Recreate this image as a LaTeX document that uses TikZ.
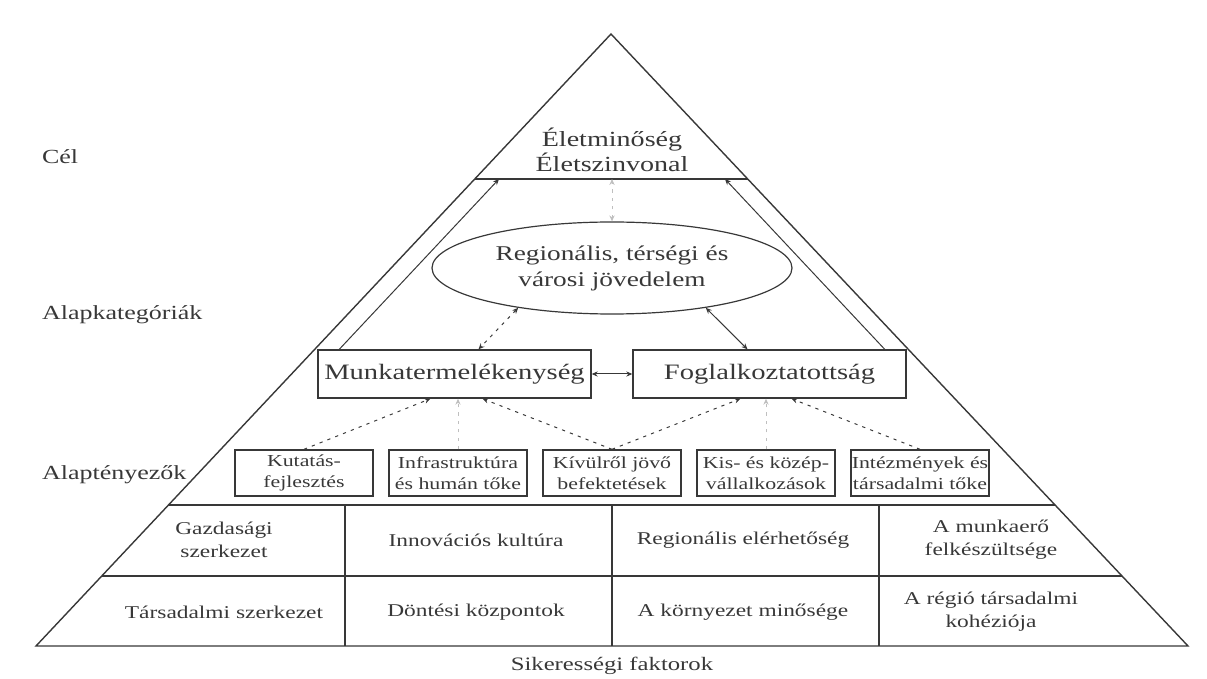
\documentclass[tikz,border=0pt]{standalone}
\usepackage{fontspec}
\setmainfont{Liberation Serif}[FakeStretch=1.3]
\usetikzlibrary{arrows.meta,shapes.geometric,calc}
\colorlet{ink}{black!78}
\tikzset{
  edge/.style={draw=ink,line width=0.7pt},
  fbox/.style={draw=ink,line width=0.7pt,minimum width=69pt,minimum height=23pt,inner sep=0pt,align=center,text=ink,font=\fontsize{8.4}{10.5}\selectfont},
  cbox/.style={draw=ink,line width=0.7pt,minimum width=136.5pt,minimum height=24pt,inner sep=0pt,text=ink,font=\fontsize{11}{13}\selectfont},
  ell/.style={draw=ink,line width=0.6pt,ellipse,minimum width=180pt,minimum height=46pt,inner sep=0pt,align=center,text=ink,font=\fontsize{10.5}{13}\selectfont},
  cell/.style={align=center,text=ink,font=\fontsize{9}{11.5}\selectfont},
  lbl/.style={anchor=west,text=ink,font=\fontsize{10}{12}\selectfont},
  arr/.style={-{Stealth[length=3pt,width=2.6pt]},draw=ink,line width=0.5pt},
  darr/.style={{Stealth[length=3pt,width=2.6pt]}-{Stealth[length=3pt,width=2.6pt]},draw=ink,line width=0.5pt},
  dots/.style={dash pattern=on 1.6pt off 2.6pt},
  faint/.style={draw=black!25},
}
\begin{document}
\begin{tikzpicture}[x=0.5pt,y=-0.5pt]
 \useasboundingbox (0,0) rectangle (1207,679);
 % pyramid and its bands
 \coordinate (apex) at (611,34); \coordinate (bl) at (36,646); \coordinate (br) at (1188,646);
 \draw[edge] (apex) -- (bl) -- (br) -- cycle;
 \draw[edge] ($(apex)!0.2369!(bl)$) -- ($(apex)!0.2369!(br)$);
 \draw[edge] ($(apex)!0.7696!(bl)$) -- ($(apex)!0.7696!(br)$);
 \draw[edge] ($(apex)!0.8856!(bl)$) -- ($(apex)!0.8856!(br)$);
 \foreach \x in {345,612,879} \draw[edge] (\x,505) -- (\x,646);
 \coordinate (bandL) at (499,179); \coordinate (bandM) at (612,179); \coordinate (bandR) at (725,179);

 % levels
 \node[lbl] (lcel) at (35,157) {Cél};
 \node[lbl] (lkat) at (35,315) {Alapkategóriák};
 \node[lbl] (ltny) at (35,475) {Alaptényezők};

 \node[cell,font=\fontsize{10.8}{10.5}\selectfont] (cel) at (612,150) {Életminőség\\Életszinvonal};
 \node[ell] (regio) at (612,268) {Regionális, térségi és\\városi jövedelem};
 \node[cbox] (munk) at (454.5,374) {Munkatermelékenység};
 \node[cbox] (fogl) at (769.5,374) {Foglalkoztatottság};

 \node[fbox] (kf) at (304,473) {Kutatás-\\fejlesztés};
 \node[fbox] (infra) at (458,473) {Infrastruktúra\\és humán tőke};
 \node[fbox] (kulf) at (612,473) {Kívülről jövő\\befektetések};
 \node[fbox] (kkv) at (766,473) {Kis- és közép-\\vállalkozások};
 \node[fbox] (intez) at (920,473) {Intézmények és\\társadalmi tőke};

 % success factors
 \node[cell] (gsz) at (224,540) {Gazdasági\\szerkezet};
 \node[cell] (ink) at (476,540) {Innovációs kultúra};
 \node[cell] (rel) at (743,540) {Regionális elérhetőség};
 \node[cell] (mef) at (991,540) {A munkaerő\\felkészültsége};
 \node[cell] (tsz) at (224,612) {Társadalmi szerkezet};
 \node[cell] (dk) at (476,612) {Döntési központok};
 \node[cell] (km) at (743,612) {A környezet minősége};
 \node[cell] (rtk) at (991,612) {A régió társadalmi\\kohéziója};
 \node[cell,anchor=base,font=\fontsize{9.5}{11}\selectfont] (siker) at (612,671) {Sikerességi faktorok};

 % connectors
 \draw[arr] ($(munk.north west)+(22,0)$) -- (bandL);
 \draw[arr] ($(fogl.north east)+(-22,0)$) -- (bandR);
 \draw[darr,dots,faint] (regio.north) -- (bandM);
 \draw[darr,dots] (regio.203) -- ($(munk.north)+(24,0)$);
 \draw[darr] (regio.337) -- ($(fogl.north)+(-22,0)$);
 \draw[darr] (munk.east) -- (fogl.west);
 \draw[arr,dots] (kf.north) -- ($(munk.south)+(-24,0)$);
 \draw[arr,dots,faint] (infra.north) -- (infra.north |- munk.south);
 \draw[arr,dots] (kulf.north) -- ($(munk.south)+(28,0)$);
 \draw[arr,dots] (kulf.north) -- ($(fogl.south)+(-29,0)$);
 \draw[arr,dots,faint] (kkv.north) -- (kkv.north |- fogl.south);
 \draw[arr,dots] (intez.north) -- ($(fogl.south)+(22,0)$);
\end{tikzpicture}
\end{document}
